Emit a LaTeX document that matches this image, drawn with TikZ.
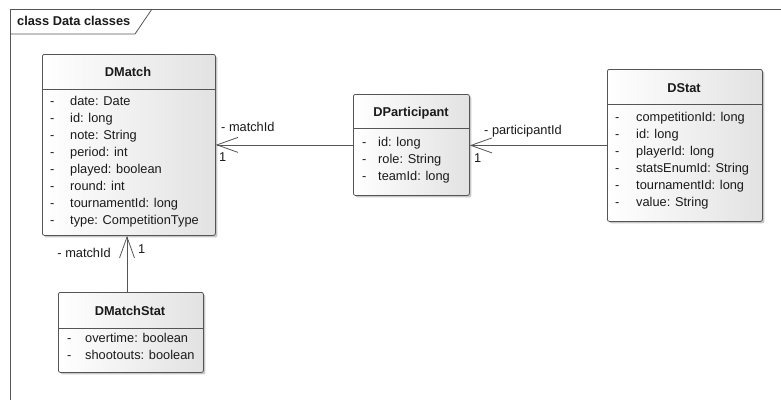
\documentclass[tikz,border=0pt]{standalone}
\usepackage{fontspec}
\setmainfont{Liberation Sans}
\usetikzlibrary{arrows.meta,shadows}
\definecolor{edge}{HTML}{555555}
\definecolor{ink}{HTML}{1A1A1A}
\definecolor{boxend}{HTML}{E2E2E2}
\newcommand{\umlfont}{\fontsize{12.8}{15}\selectfont}
\tikzset{
  classbox/.style={draw=edge, line width=0.8pt, rounded corners=2pt,
    left color=white, right color=boxend, inner sep=0pt, anchor=north west,
    drop shadow={shadow xshift=2pt, shadow yshift=-2pt, opacity=0.3, fill=black!70}},
  divider/.style={draw=edge, line width=0.8pt},
  cname/.style={font=\umlfont\bfseries, text=ink, inner sep=0pt,
    text height=9pt, text depth=2.6pt},
  attr/.style={font=\umlfont, text=ink, anchor=west, inner sep=0pt,
    text height=9pt, text depth=2.6pt},
  rolelabel/.style={font=\umlfont, text=ink, inner sep=0pt,
    text height=9pt, text depth=2.6pt},
  assoc/.style={draw=edge, line width=0.8pt,
    -{Straight Barb[length=21pt,width=15pt,line width=0.8pt]}},
  framebox/.style={draw=edge, line width=0.8pt},
}
\begin{document}
\begin{tikzpicture}[x=1pt,y=-1pt]
  \useasboundingbox (0,0) rectangle (781,400);
  \fill[white] (0,0) rectangle (781,400);

  % diagram frame with its name tab
  \draw[framebox] (781,9) -- (10,9) -- (10,400);
  \draw[framebox] (10,34) -- (135,34) -- (152,9);
  \node[cname, anchor=west] (frametitle) at (17,22) {class Data classes};

  % DMatch
  \node[classbox, minimum width=173pt, minimum height=181pt] (dmatch) at (42,54) {};
  \draw[divider] (dmatch.west |- 0,89) -- (dmatch.east |- 0,89);
  \node[cname] (dmatch-name) at (128,73) {DMatch};
  \foreach \t [count=\i] in {date: Date, id: long, note: String, period: int,
      played: boolean, round: int, tournamentId: long, type: CompetitionType} {
    \node[attr] (dmatch-v\i) at (50,{85+17*\i}) {-};
    \node[attr] (dmatch-a\i) at (70,{85+17*\i}) {\t};
  }

  % DParticipant
  \node[classbox, minimum width=116pt, minimum height=101pt] (dpart) at (353,94) {};
  \draw[divider] (dpart.west |- 0,128) -- (dpart.east |- 0,128);
  \node[cname] (dpart-name) at (411,113) {DParticipant};
  \foreach \t [count=\i] in {id: long, role: String, teamId: long} {
    \node[attr] (dpart-v\i) at (362,{126+17*\i}) {-};
    \node[attr] (dpart-a\i) at (378,{126+17*\i}) {\t};
  }

  % DStat
  \node[classbox, minimum width=155pt, minimum height=152pt] (dstat) at (607,69) {};
  \draw[divider] (dstat.west |- 0,104) -- (dstat.east |- 0,104);
  \node[cname] (dstat-name) at (684,89) {DStat};
  \foreach \t [count=\i] in {competitionId: long, id: long, playerId: long,
      statsEnumId: String, tournamentId: long, value: String} {
    \node[attr] (dstat-v\i) at (615,{101+17*\i}) {-};
    \node[attr] (dstat-a\i) at (636,{101+17*\i}) {\t};
  }

  % DMatchStat
  \node[classbox, minimum width=145pt, minimum height=80pt] (dmstat) at (58,292) {};
  \draw[divider] (dmstat.west |- 0,328) -- (dmstat.east |- 0,328);
  \node[cname] (dmstat-name) at (130,312) {DMatchStat};
  \foreach \t [count=\i] in {overtime: boolean, shootouts: boolean} {
    \node[attr] (dmstat-v\i) at (67,{322+17*\i}) {-};
    \node[attr] (dmstat-a\i) at (85,{322+17*\i}) {\t};
  }

  % associations
  \coordinate (dm-anchor) at (127,0);
  \draw[assoc] (dpart.west) -- (dmatch.east);
  \node[rolelabel, anchor=west] (r1) at (221,128) {- matchId};
  \node[rolelabel, anchor=west] (m1) at (219,158) {1};

  \draw[assoc] (dstat.west) -- (dstat.west -| dpart.east);
  \node[rolelabel, anchor=west] (r2) at (484,131) {- participantId};
  \node[rolelabel, anchor=west] (m2) at (474,159) {1};

  \draw[assoc] (dm-anchor |- dmstat.north) -- (dm-anchor |- dmatch.south);
  \node[rolelabel, anchor=east] (r3) at (111,254) {- matchId};
  \node[rolelabel, anchor=west] (m3) at (138,250) {1};
\end{tikzpicture}
\end{document}
